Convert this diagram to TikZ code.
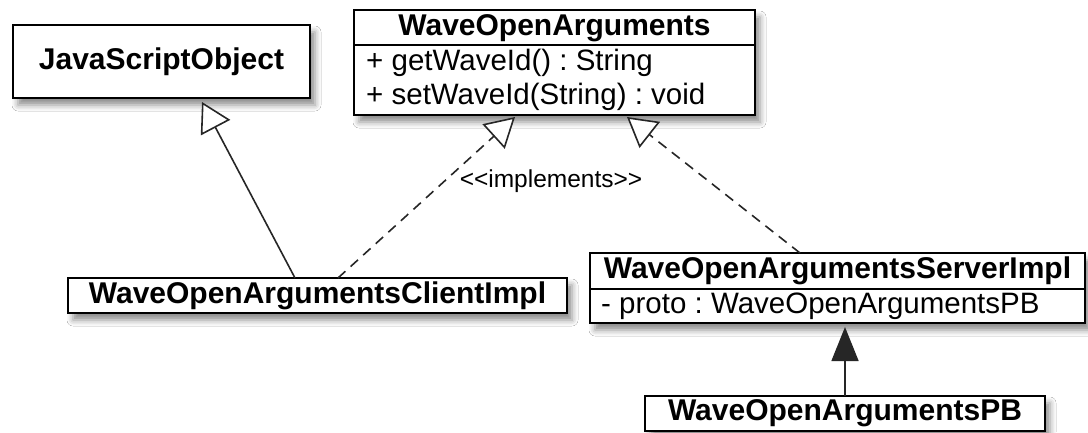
\documentclass[tikz,border=0pt]{standalone}
\usepackage{fontspec}
\setmainfont{Liberation Sans}[Ligatures=TeXOff]
\usetikzlibrary{arrows.meta,shadows.blur}
\tikzset{
  box/.style={draw=black, line width=1.6pt, fill=white, inner sep=0pt, outer sep=0pt,
    blur shadow={shadow xshift=5pt, shadow yshift=-7pt, shadow blur radius=6pt, shadow opacity=45}},
  clsname/.style={font=\fontsize{30}{32}\selectfont\bfseries, inner sep=0pt},
  member/.style={font=\fontsize{29.5}{32}\selectfont, inner sep=0pt, anchor=west},
  conn/.style={line width=1.6pt, draw=black!85},
  gen/.style={conn, -{Triangle[open, length=29pt, width=33pt, line width=1.6pt, fill=white]}},
  real/.style={gen, dash pattern=on 10pt off 7pt},
  assoc/.style={conn, -{Triangle[length=34pt, width=27pt]}},
  lbl/.style={font=\fontsize{24.5}{26}\selectfont, inner sep=0pt},
}
\frenchspacing
\begin{document}
\frenchspacing
\begin{tikzpicture}[x=1pt, y=-1pt]
\fill[white] (0,0) rectangle (1088,432);
\useasboundingbox (0,0) rectangle (1088,432);

% JavaScriptObject
\node[box, minimum width=297pt, minimum height=73pt, anchor=north west, clsname] (jso) at (13,25) {JavaScriptObject};

% WaveOpenArguments
\node[box, minimum width=401pt, minimum height=105pt, anchor=north west] (woa) at (354,10) {};
\draw[line width=1.6pt] (woa.west |- 0,45) coordinate (woasepl) -- (woa.east |- 0,45) coordinate (woasepr);
\node[clsname] (woaname) at (554.5,28) {WaveOpenArguments};
\node[member] (woam1) at (366,63) {+ getWaveId() : String};
\node[member] (woam2) at (366,97) {+ setWaveId(String) : void};

% Client impl
\node[box, minimum width=499pt, minimum height=35pt, anchor=north west, clsname] (client) at (68,278) {WaveOpenArgumentsClientImpl};

% Server impl
\node[box, minimum width=495pt, minimum height=70pt, anchor=north west] (server) at (590,253) {};
\draw[line width=1.6pt] (server.west |- 0,289) coordinate (srvsepl) -- (server.east |- 0,289) coordinate (srvsepr);
\node[clsname] (srvname) at (837.5,271) {WaveOpenArgumentsServerImpl};
\node[member] (srvm1) at (601,306) {- proto : WaveOpenArgumentsPB};

% PB
\node[box, minimum width=400pt, minimum height=35pt, anchor=north west, clsname] (pb) at (645,396) {WaveOpenArgumentsPB};

% connectors
\draw[gen] ([xshift=-22.5pt]client.north) -- ([xshift=40.5pt, yshift=-4pt]jso.south);
\draw[real] ([xshift=20.5pt]client.north) -- ([xshift=-39.5pt, yshift=-2pt]woa.south);
\draw[real] ([xshift=-37.5pt]server.north) -- ([xshift=72.5pt, yshift=-2pt]woa.south);
\draw[assoc] (pb.north) -- ([yshift=-4pt]pb.north |- server.south);

\node[lbl] (implbl) at (551,181) {<<implements>>};
\end{tikzpicture}
\end{document}
